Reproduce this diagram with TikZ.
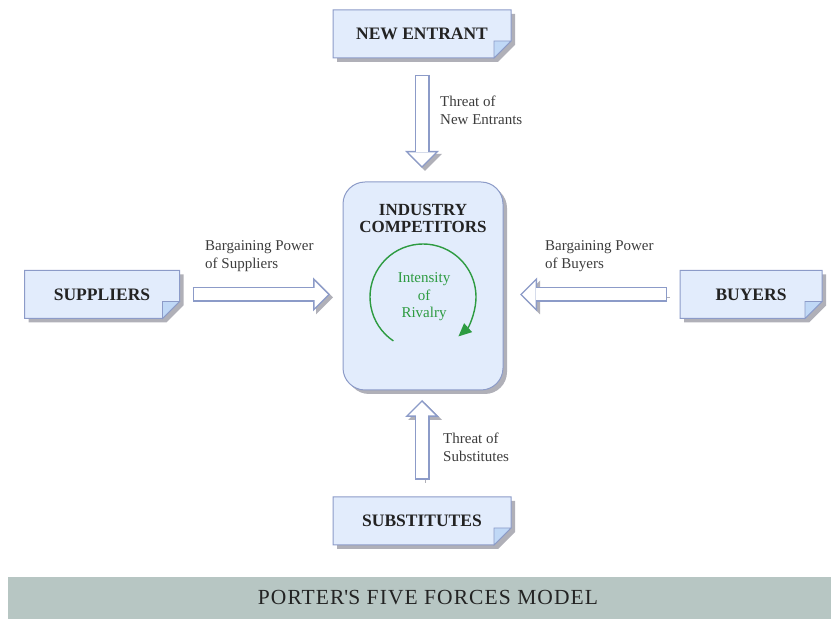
\documentclass[tikz,border=0pt]{standalone}
\usepackage{fontspec}
\setmainfont{Liberation Serif}
\usetikzlibrary{arrows.meta,backgrounds}

\definecolor{boxfill}{RGB}{226,236,252}
\definecolor{boxline}{RGB}{140,155,200}
\definecolor{foldfill}{RGB}{192,216,246}
\definecolor{shade}{RGB}{176,176,184}
\definecolor{ink}{RGB}{35,35,35}
\definecolor{labelink}{RGB}{60,60,60}
\definecolor{rivalry}{RGB}{45,155,65}
\definecolor{banner}{RGB}{183,198,195}

\tikzset{
  doc/.style = {minimum width=#1, minimum height=48pt, inner sep=0pt, outer sep=0pt,
                font=\fontsize{17.5}{20}\selectfont\bfseries, text=ink},
  doc/.default = 178pt,
  docframe/.style = {fill=boxfill, draw=boxline, line width=1pt,
                     preaction={fill=shade, transform canvas={shift={(4pt,-4pt)}}}},
  force/.style = {line width=15pt, draw=boxline,
                  -{Triangle[length=17pt,width=34pt,line width=0pt]},
                  preaction={draw=shade, transform canvas={shift={(3pt,-3pt)}}},
                  postaction={draw=white, line width=12pt, shorten <=1.5pt, shorten >=2.1pt,
                              -{Triangle[length=13.4pt,width=26.8pt,line width=0pt]}}},
  tag/.style = {anchor=west, align=left, inner sep=0pt,
                font=\fontsize{15}{18}\selectfont, text=labelink}
}

\begin{document}
\begin{tikzpicture}[x=1pt,y=1pt]
	\def \fold{17pt}
	\useasboundingbox (0,0) rectangle (831,619);

	% Industry box
	\node[draw=boxline, fill=boxfill, line width=1pt, rounded corners=22pt,
	      minimum width=160pt, minimum height=208pt, outer sep=0pt,
	      preaction={fill=shade, transform canvas={shift={(4pt,-4pt)}}}] (core) at (423,333) {};
	\node[align=center, inner sep=0pt, font=\fontsize{17}{17}\selectfont\bfseries, text=ink]
	      (title) at (423,401) {INDUSTRY\\COMPETITORS};
	\node[align=center, inner sep=0pt, font=\fontsize{15}{17.5}\selectfont, text=rivalry]
	      (rivalry) at (424,322) {Intensity\\of\\Rivalry};
	\draw[rivalry, line width=1.4pt, -{Triangle[length=13pt,width=12pt,line width=0pt]}]
	      ([shift={(236:53pt)}]423,322) arc[start angle=236, end angle=-48, radius=53pt];

	% Forces
	\node[doc] (entrant) at (422,585) {NEW ENTRANT};
	\node[doc=155pt] (suppliers) at (102,324.5) {SUPPLIERS};
	\node[doc=142pt] (buyers) at (751,324.5) {BUYERS};
	\node[doc] (subst) at (422,98) {SUBSTITUTES};

	\begin{scope}[on background layer]
	\foreach \n in {entrant,suppliers,buyers,subst}{
		\path[docframe] (\n.north west) -- (\n.north east) -- ([yshift=\fold]\n.south east)
		      -- ([xshift=-\fold]\n.south east) -- (\n.south west) -- cycle;
		\path[fill=foldfill, draw=boxline, line width=0.8pt] ([yshift=\fold]\n.south east)
		      -- ([xshift=-\fold, yshift=\fold]\n.south east) -- ([xshift=-\fold]\n.south east) -- cycle;
	}
	\end{scope}

	% Arrow ends on the industry box
	\coordinate (coretop) at (core.north -| entrant.south);
	\coordinate (corebottom) at (core.south -| subst.north);
	\coordinate (coreleft) at (core.west |- suppliers.east);
	\coordinate (coreright) at (core.east |- buyers.west);

	% Arrows
	\path[force] ([yshift=-17pt]entrant.south) -- ([yshift=14pt]coretop);
	\path[force] ([yshift=17pt]subst.north) -- ([yshift=-10pt]corebottom);
	\path[force] ([xshift=13pt]suppliers.east) -- ([xshift=-13pt]coreleft);
	\path[force] ([xshift=-13pt]buyers.west) -- ([xshift=17pt]coreright);

	% Labels
	\node[tag] (threatnew) at (440,509) {Threat of\\New Entrants};
	\node[tag] (powersup) at (205,363) {Bargaining Power\\of Suppliers};
	\node[tag] (powerbuy) at (545,363) {Bargaining Power\\of Buyers};
	\node[tag] (threatsub) at (443,172) {Threat of\\Substitutes};

	% Caption
	\fill[banner] (8,0) rectangle (831,42);
	\node[inner sep=0pt, text=ink, font=\fontsize{21.5}{24}\selectfont\addfontfeature{LetterSpace=5}]
	      (caption) at (428,21) {PORTER\textquotesingle S FIVE FORCES MODEL};
\end{tikzpicture}
\end{document}
